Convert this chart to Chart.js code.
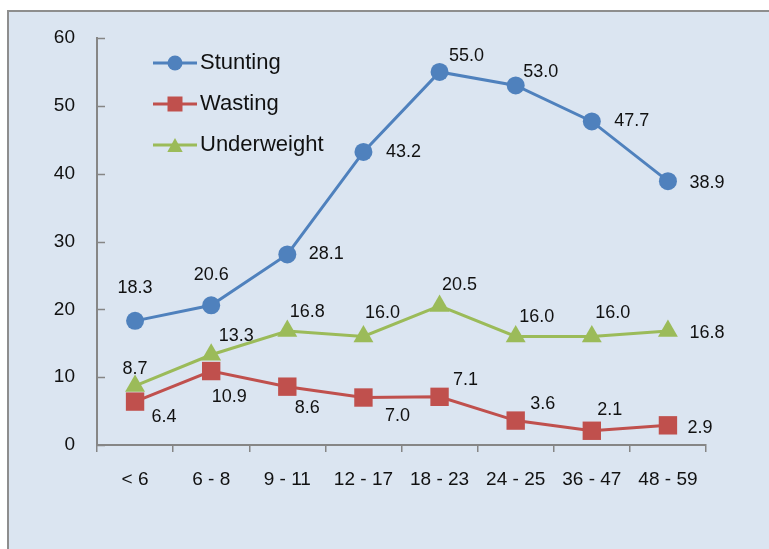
<!DOCTYPE html>
<html>
<head>
<meta charset="utf-8">
<script src="https://cdn.jsdelivr.net/npm/chart.js@4.4.1/dist/chart.umd.min.js"></script>
<style>
  html, body { margin: 0; padding: 0; background: #ffffff; overflow: hidden; }
  #frame { position: absolute; left: 7px; top: 10px; width: 800px; height: 600px;
           background: #DBE5F1; border-left: 2px solid #8E8E8E; border-top: 2px solid #8E8E8E; }
  #wrap { position: absolute; left: 0; top: 0; width: 769px; height: 549px; }
</style>
</head>
<body>
<div id="frame"></div>
<div id="wrap"><canvas id="c" width="769" height="549"></canvas></div>
<script>
// ---- data ----
const categories = ['< 6', '6 - 8', '9 - 11', '12 - 17', '18 - 23', '24 - 25', '36 - 47', '48 - 59'];
const stunting = [18.3, 20.6, 28.1, 43.2, 55.0, 53.0, 47.7, 38.9];
const wasting = [6.4, 10.9, 8.6, 7.0, 7.1, 3.6, 2.1, 2.9];
const underweight = [8.7, 13.3, 16.8, 16.0, 20.5, 16.0, 16.0, 16.8];
const seriesNames = ['Stunting', 'Wasting', 'Underweight'];
const yTicks = [0, 10, 20, 30, 40, 50, 60];

// ---- label placement (style, offsets in px from the point) ----
const labelOffsets = [
  [[0,-33],[0,-30],[39,0],[40,0],[27,-16],[25,-13],[40,0],[39,2]],
  [[29,15],[18,26],[20,21],[34,19],[26,-17],[27,-17],[18,-21],[32,3]],
  [[0,-17],[25,-19],[20,-19],[19,-23],[20,-21],[21,-19],[21,-23],[39,2]]
];
const FONT = "'Liberation Sans', Arial, sans-serif";
const AXIS = '#868686';

const dataLabels = {
  id: 'dataLabels',
  afterDatasetsDraw(chart) {
    const ctx = chart.ctx;
    ctx.save();
    ctx.font = '18px ' + FONT;
    ctx.fillStyle = '#111';
    ctx.textAlign = 'center';
    ctx.textBaseline = 'middle';
    chart.data.datasets.forEach((ds, i) => {
      chart.getDatasetMeta(i).data.forEach((pt, j) => {
        const o = labelOffsets[i][j];
        ctx.fillText(ds.data[j].toFixed(1), pt.x + o[0], pt.y + o[1]);
      });
    });
    ctx.restore();
  }
};

const innerTicks = {
  id: 'innerTicks',
  afterDraw(chart) {
    const ctx = chart.ctx, ys = chart.scales.y;
    ctx.save();
    ctx.strokeStyle = AXIS;
    ctx.lineWidth = 1.5;
    ys.ticks.forEach(t => {
      const y = Math.round(ys.getPixelForValue(t.value)) + 0.5;
      ctx.beginPath();
      ctx.moveTo(ys.right, y);
      ctx.lineTo(ys.right + 8, y);
      ctx.stroke();
    });
    ctx.restore();
  }
};

function marker(ctx, style, x, y, r, color) {
  ctx.fillStyle = color;
  ctx.beginPath();
  if (style === 'circle') {
    ctx.arc(x, y, r, 0, Math.PI * 2);
  } else if (style === 'rect') {
    ctx.rect(x - r, y - r, 2 * r, 2 * r);
  } else {
    ctx.moveTo(x, y - r);
    ctx.lineTo(x + r * 1.1, y + r);
    ctx.lineTo(x - r * 1.1, y + r);
    ctx.closePath();
  }
  ctx.fill();
}

const customLegend = {
  id: 'customLegend',
  afterDraw(chart) {
    const ctx = chart.ctx;
    ctx.save();
    chart.data.datasets.forEach((ds, i) => {
      const y = 63 + i * 41;
      ctx.strokeStyle = ds.borderColor;
      ctx.lineWidth = 3;
      ctx.beginPath();
      ctx.moveTo(153, y);
      ctx.lineTo(197, y);
      ctx.stroke();
      marker(ctx, ds.pointStyle, 175, y, ds.pointStyle === 'triangle' ? 7 : 7.5, ds.backgroundColor);
      ctx.fillStyle = '#111';
      ctx.font = '22px ' + FONT;
      ctx.textAlign = 'left';
      ctx.textBaseline = 'middle';
      ctx.fillText(ds.label, 200, y);
    });
    ctx.restore();
  }
};

const colors = ['#4F81BD', '#C0504D', '#9BBB59'];
const styles = ['circle', 'rect', 'triangle'];
const radii = [9, 13, 11.5];
const values = [stunting, wasting, underweight];

new Chart(document.getElementById('c'), {
  type: 'line',
  data: {
    labels: categories,
    datasets: values.map((v, i) => ({
      label: seriesNames[i],
      data: v,
      borderColor: colors[i],
      backgroundColor: colors[i],
      borderWidth: 3,
      pointStyle: styles[i],
      pointRadius: radii[i],
      pointHoverRadius: radii[i],
      pointBorderWidth: 0,
      tension: 0,
      fill: false
    }))
  },
  options: {
    responsive: false,
    animation: false,
    events: [],
    layout: { padding: { left: 0, top: 38, right: 63, bottom: 0 } },
    plugins: { legend: { display: false }, tooltip: { enabled: false } },
    scales: {
      x: {
        offset: true,
        grid: { display: true, drawOnChartArea: false, offset: true, tickLength: 7, color: AXIS, lineWidth: 1.5 },
        border: { display: true, color: AXIS, width: 2 },
        ticks: { font: { family: FONT, size: 19 }, color: '#111', padding: 16, maxRotation: 0, autoSkip: false },
        afterFit(s) { s.height = 104; }
      },
      y: {
        min: 0, max: 60,
        afterBuildTicks(s) { s.ticks = yTicks.map(v => ({ value: v })); },
        grid: { display: true, drawOnChartArea: false, drawTicks: false },
        border: { display: true, color: AXIS, width: 2 },
        ticks: { font: { family: FONT, size: 19 }, color: '#111', padding: 22 },
        afterFit(s) { s.width = 97; }
      }
    }
  },
  plugins: [dataLabels, innerTicks, customLegend]
});
</script>
</body>
</html>
